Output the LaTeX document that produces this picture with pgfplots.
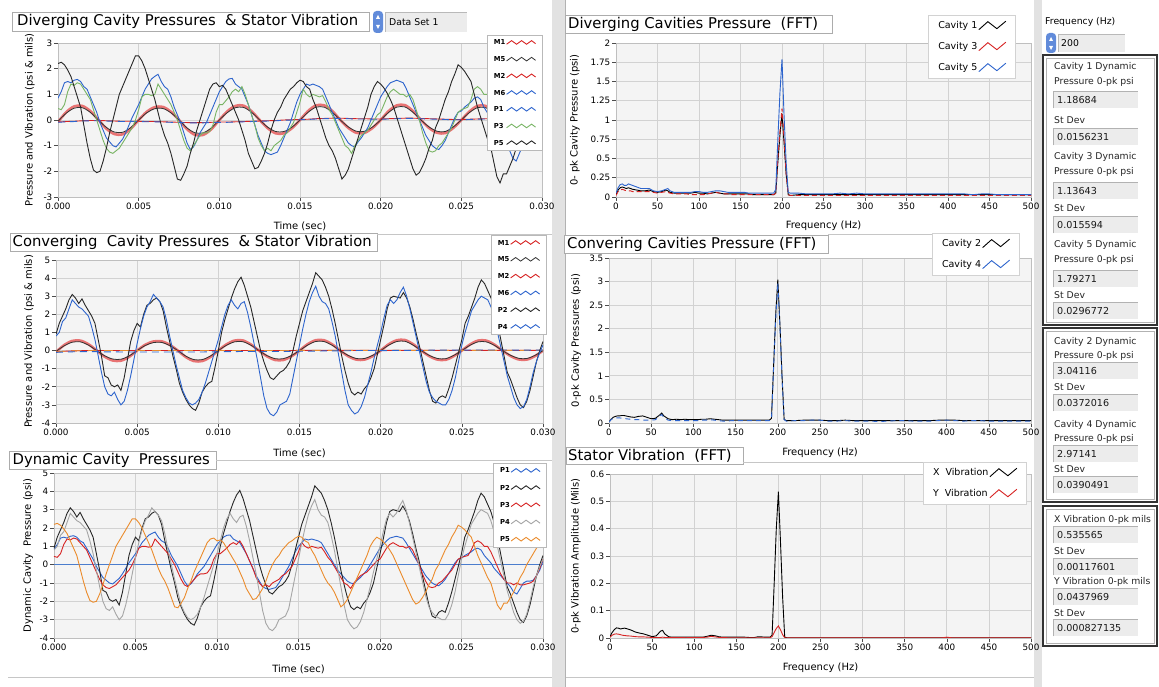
\documentclass[border=0pt]{standalone}
\usepackage{pgfplots}
\usepackage{pgfplotstable}
\pgfplotsset{compat=1.18}
\usepackage{fontspec}
\setmainfont{DejaVu Sans}

\definecolor{plotbg}{RGB}{244,244,244}
\definecolor{gridc}{RGB}{210,210,210}
\definecolor{lvblue}{RGB}{45,100,205}
\definecolor{lvblue2}{RGB}{75,125,205}
\definecolor{lvred}{RGB}{215,35,35}
\definecolor{lvred2}{RGB}{232,115,115}
\definecolor{lvgreen}{RGB}{120,180,100}
\definecolor{lvorange}{RGB}{235,140,45}
\definecolor{lvgrey}{RGB}{165,165,165}
\definecolor{lvpurple}{RGB}{110,40,140}
\definecolor{boxfill}{RGB}{236,236,236}
\definecolor{sepc}{RGB}{226,226,226}

% time signals (t in ms)
\pgfplotstableread{
t P1 P2 P3 P4 P5
0.0 0.85 0.9 0.45 0.8 2.2
0.2 1.1 1.5 0.4 1.0 2.25
0.4 1.45 1.9 0.6 1.6 2.15
0.6 1.5 2.3 1.1 1.8 1.95
0.8 1.45 2.8 1.4 2.3 1.7
1.0 1.55 3.1 1.35 2.8 1.3
1.2 1.58 2.9 1.45 2.6 0.9
1.4 1.5 2.6 1.4 2.4 0.5
1.6 1.3 2.85 1.2 2.3 -0.2
1.8 1.2 2.5 1.0 2.1 -0.9
2.0 0.9 2.2 0.8 1.9 -1.5
2.2 0.6 1.9 0.4 1.3 -1.95
2.4 0.3 1.5 0.0 0.6 -2.05
2.6 -0.1 0.6 -0.4 -0.3 -2.0
2.8 -0.4 -0.3 -0.8 -1.2 -1.6
3.0 -0.7 -1.4 -1.1 -2.0 -1.1
3.2 -0.85 -1.5 -1.25 -2.4 -0.5
3.4 -1.0 -1.9 -1.3 -2.5 0.0
3.6 -1.05 -2.0 -1.2 -2.3 0.5
3.8 -0.9 -1.9 -1.1 -2.7 1.0
4.0 -0.75 -2.2 -0.9 -3.0 1.3
4.2 -0.5 -1.5 -0.7 -2.8 1.6
4.4 -0.2 -0.5 -0.5 -2.2 1.9
4.6 0.1 0.5 -0.3 -1.4 2.2
4.8 0.35 1.1 0.0 -0.5 2.5
5.0 0.6 1.5 0.4 0.4 2.5
5.2 0.9 1.3 0.9 1.2 2.3
5.4 1.2 2.0 1.0 1.9 2.0
5.6 1.4 2.5 1.0 2.4 1.6
5.8 1.6 2.6 0.95 2.7 1.2
6.0 1.7 2.8 1.0 3.1 0.8
6.2 1.78 2.9 1.4 2.9 0.3
6.4 1.5 2.7 1.2 2.7 -0.2
6.6 1.3 2.2 1.0 2.4 -0.6
6.8 1.2 1.3 0.8 1.7 -0.9
7.0 0.9 0.5 0.6 0.8 -1.3
7.2 0.5 -0.3 0.3 0.0 -1.8
7.4 0.2 -1.0 0.0 -0.8 -2.3
7.6 -0.1 -1.8 -0.4 -1.5 -2.35
7.8 -0.5 -2.3 -0.8 -2.2 -2.1
8.0 -0.9 -2.7 -1.1 -2.6 -1.8
8.2 -1.15 -3.0 -1.2 -2.9 -1.3
8.4 -1.05 -3.2 -1.0 -3.0 -0.9
8.6 -0.8 -3.3 -0.8 -2.9 -0.4
8.8 -0.5 -2.9 -0.6 -2.7 0.0
9.0 -0.3 -2.3 -0.5 -2.3 0.4
9.2 -0.1 -2.0 -0.5 -1.8 0.8
9.4 0.2 -1.8 -0.45 -1.2 1.2
9.6 0.5 -1.7 -0.2 -0.6 1.4
9.8 0.8 -0.9 0.3 0.0 1.45
10.0 1.1 0.0 0.6 0.6 1.3
10.2 1.3 1.0 0.6 1.3 1.35
10.4 1.5 1.7 0.75 2.0 1.2
10.6 1.6 2.3 0.9 2.5 0.9
10.8 1.62 2.9 1.1 2.8 0.6
11.0 1.4 3.4 1.2 2.5 0.3
11.2 1.3 3.8 1.1 2.3 0.0
11.4 1.2 4.05 1.3 2.6 -0.4
11.6 0.9 3.6 1.0 2.7 -0.8
11.8 0.6 3.0 0.6 2.1 -1.3
12.0 0.2 2.4 0.2 1.3 -1.6
12.2 -0.2 1.6 -0.2 0.4 -1.9
12.4 -0.6 0.8 -0.7 -0.5 -1.85
12.6 -0.9 0.0 -1.0 -1.5 -1.6
12.8 -1.2 -0.6 -1.2 -2.5 -1.3
13.0 -1.3 -1.1 -1.1 -3.2 -0.9
13.2 -1.35 -1.5 -1.2 -3.5 -0.4
13.4 -1.3 -1.6 -1.0 -3.6 0.0
13.6 -1.25 -1.4 -0.9 -3.4 0.3
13.8 -1.0 -1.2 -0.8 -3.0 0.5
14.0 -0.7 -1.1 -0.6 -2.9 0.8
14.2 -0.4 -0.9 -0.5 -2.8 1.0
14.4 -0.1 -0.6 -0.3 -2.4 1.2
14.6 0.3 0.0 -0.1 -1.5 1.3
14.8 0.7 0.8 0.3 -0.6 1.45
15.0 1.0 1.5 0.7 0.3 1.55
15.2 1.2 2.2 1.2 1.2 1.5
15.4 1.4 2.7 1.0 2.0 1.3
15.6 1.35 3.2 0.9 2.7 1.2
15.8 1.4 3.7 1.0 3.2 0.8
16.0 1.35 4.3 0.95 3.55 0.5
16.2 1.3 4.1 0.9 3.0 0.1
16.4 1.2 3.9 0.95 2.7 -0.3
16.6 0.9 3.5 0.7 2.6 -0.7
16.8 0.6 3.0 0.4 2.3 -1.0
17.0 0.3 2.3 0.2 1.6 -1.2
17.2 0.0 1.5 -0.1 0.8 -1.5
17.4 -0.3 0.6 -0.4 -0.2 -1.9
17.6 -0.5 -0.3 -0.7 -1.2 -2.3
17.8 -0.7 -1.1 -1.0 -2.2 -2.15
18.0 -0.9 -1.8 -1.1 -3.0 -1.9
18.2 -1.0 -2.3 -1.3 -3.3 -1.5
18.4 -1.05 -2.45 -1.0 -3.5 -1.1
18.6 -0.85 -2.3 -0.8 -3.4 -0.7
18.8 -0.7 -2.4 -0.6 -3.1 -0.3
19.0 -0.5 -2.1 -0.5 -2.6 0.1
19.2 -0.3 -1.9 -0.4 -1.9 0.5
19.4 0.0 -1.5 -0.2 -1.2 1.0
19.6 0.3 -1.0 0.0 -0.4 1.3
19.8 0.6 -0.2 0.2 0.3 1.5
20.0 0.9 0.6 0.3 1.0 1.4
20.2 1.1 1.4 0.6 1.8 1.25
20.4 1.3 2.3 0.9 2.5 1.05
20.6 1.45 2.9 1.1 2.8 0.8
20.8 1.5 3.0 1.2 2.6 0.5
21.0 1.55 2.95 1.1 2.8 0.1
21.2 1.5 2.9 1.0 3.2 -0.3
21.4 1.45 3.2 1.0 3.5 -0.7
21.6 1.2 2.9 0.9 3.0 -1.1
21.8 0.9 2.4 1.0 2.3 -1.5
22.0 0.6 1.7 0.8 1.5 -1.9
22.2 0.3 0.9 0.4 0.7 -2.15
22.4 0.0 0.2 0.0 -0.1 -2.05
22.6 -0.3 -0.6 -0.5 -0.9 -1.8
22.8 -0.6 -1.4 -0.9 -1.7 -1.5
23.0 -0.8 -2.2 -1.2 -2.3 -1.1
23.2 -1.0 -2.8 -1.25 -2.6 -0.8
23.4 -1.1 -2.9 -1.2 -2.8 -0.3
23.6 -1.15 -2.6 -1.0 -2.9 0.0
23.8 -1.0 -2.5 -0.9 -3.0 0.4
24.0 -0.8 -2.6 -0.7 -3.0 0.8
24.2 -0.5 -2.1 -0.5 -2.7 1.1
24.4 -0.2 -1.5 -0.3 -2.2 1.5
24.6 0.1 -0.8 0.0 -1.5 1.8
24.8 0.3 -0.1 0.3 -0.6 2.15
25.0 0.35 0.6 0.4 0.3 2.05
25.2 0.5 1.5 0.45 1.0 1.9
25.4 0.6 1.9 0.5 1.6 1.7
25.6 0.7 2.4 0.8 2.2 1.5
25.8 0.85 2.9 1.2 2.5 1.0
26.0 0.9 3.5 1.3 2.8 0.5
26.2 0.8 3.9 1.2 3.0 0.1
26.4 0.5 3.7 1.0 2.9 -0.3
26.6 0.3 3.3 1.0 2.8 -0.7
26.8 0.1 2.9 0.7 2.4 -1.0
27.0 -0.2 2.3 0.3 1.8 -1.6
27.2 -0.4 1.5 -0.1 1.0 -2.2
27.4 -0.6 0.6 -0.5 0.2 -2.45
27.6 -0.8 -0.3 -0.8 -0.6 -2.1
27.8 -1.0 -1.2 -1.0 -1.4 -2.1
28.0 -1.2 -1.6 -1.0 -2.0 -1.8
28.2 -1.5 -2.1 -1.1 -2.6 -1.5
28.4 -1.6 -2.6 -1.0 -3.0 -1.1
28.6 -1.3 -3.0 -1.1 -3.2 -0.7
28.8 -1.0 -3.15 -1.1 -3.1 -0.4
29.0 -0.9 -2.8 -1.05 -2.7 0.0
29.2 -0.9 -2.2 -1.0 -2.0 0.3
29.4 -0.85 -1.4 -0.9 -1.2 0.6
29.6 -0.6 -0.6 -0.6 -0.6 0.9
29.8 -0.3 0.0 -0.2 -0.1 1.1
30.0 0.2 0.5 0.3 0.3 1.3
}\ptab

% stator vibration traces (t in ms)
\pgfplotstableread{
t M1 M5 Z1 Z2 Z3 Z4
0.0 -0.08 -0.05 -0.08 -0.09 -0.08 -0.10
0.5 0.30 0.26 -0.06 -0.07 -0.04 -0.08
1.0 0.53 0.46 -0.05 -0.06 -0.02 -0.07
1.5 0.55 0.48 -0.03 -0.04 -0.01 -0.06
2.0 0.35 0.30 -0.02 -0.03 0.00 -0.06
2.5 0.01 0.00 -0.02 -0.03 0.00 -0.06
3.0 -0.34 -0.29 -0.03 -0.04 0.00 -0.07
3.5 -0.55 -0.47 -0.04 -0.05 0.00 -0.07
4.0 -0.56 -0.48 -0.05 -0.06 0.00 -0.08
4.5 -0.35 -0.30 -0.05 -0.06 0.00 -0.08
5.0 0.00 0.00 -0.05 -0.06 0.00 -0.08
5.5 0.32 0.28 -0.06 -0.07 0.00 -0.08
6.0 0.50 0.44 -0.06 -0.07 0.00 -0.08
6.5 0.51 0.45 -0.07 -0.08 0.00 -0.08
7.0 0.32 0.28 -0.08 -0.09 0.00 -0.08
7.5 0.00 0.00 -0.09 -0.10 0.00 -0.08
8.0 -0.36 -0.31 -0.10 -0.11 0.00 -0.08
8.5 -0.58 -0.50 -0.10 -0.11 0.00 -0.08
9.0 -0.58 -0.50 -0.10 -0.11 0.00 -0.08
9.5 -0.36 -0.31 -0.09 -0.10 0.00 -0.07
10.0 0.00 0.00 -0.08 -0.09 0.00 -0.07
10.5 0.34 0.29 -0.08 -0.09 0.00 -0.06
11.0 0.55 0.48 -0.07 -0.08 0.00 -0.06
11.5 0.56 0.49 -0.06 -0.07 0.00 -0.05
12.0 0.34 0.30 -0.05 -0.06 0.00 -0.05
12.5 0.00 0.00 -0.04 -0.05 0.00 -0.05
13.0 -0.32 -0.28 -0.03 -0.04 0.00 -0.05
13.5 -0.52 -0.45 -0.02 -0.03 0.00 -0.05
14.0 -0.52 -0.45 0.00 -0.01 0.00 -0.05
14.5 -0.32 -0.28 0.01 0.00 0.00 -0.04
15.0 0.00 0.00 0.02 0.01 0.01 -0.04
15.5 0.35 0.30 0.03 0.02 0.01 -0.03
16.0 0.57 0.50 0.05 0.04 0.01 -0.03
16.5 0.57 0.50 0.06 0.05 0.01 -0.02
17.0 0.35 0.30 0.07 0.06 0.01 -0.02
17.5 0.00 0.00 0.07 0.06 0.01 -0.01
18.0 -0.31 -0.27 0.06 0.05 0.01 -0.01
18.5 -0.50 -0.44 0.05 0.04 0.01 0.00
19.0 -0.50 -0.44 0.05 0.04 0.01 0.00
19.5 -0.31 -0.27 0.04 0.03 0.01 0.00
20.0 0.00 0.00 0.04 0.03 0.01 0.00
20.5 0.35 0.30 0.05 0.04 0.01 0.00
21.0 0.57 0.50 0.06 0.05 0.01 0.01
21.5 0.58 0.51 0.07 0.06 0.01 0.01
22.0 0.35 0.30 0.07 0.06 0.01 0.01
22.5 0.00 0.00 0.06 0.05 0.01 0.01
23.0 -0.31 -0.27 0.05 0.04 0.01 0.02
23.5 -0.50 -0.44 0.04 0.03 0.01 0.02
24.0 -0.51 -0.45 0.03 0.02 0.01 0.02
24.5 -0.31 -0.27 0.02 0.01 0.01 0.02
25.0 0.00 0.00 0.02 0.01 0.01 0.02
25.5 0.33 0.29 0.03 0.02 0.01 0.03
26.0 0.55 0.48 0.04 0.03 0.01 0.03
26.5 0.55 0.48 0.05 0.04 0.01 0.03
27.0 0.33 0.29 0.05 0.04 0.01 0.03
27.5 0.00 0.00 0.05 0.04 0.01 0.03
28.0 -0.30 -0.26 0.05 0.04 0.01 0.03
28.5 -0.49 -0.43 0.05 0.04 0.01 0.02
29.0 -0.50 -0.44 0.04 0.03 0.01 0.02
29.5 -0.31 -0.27 0.04 0.03 0.01 0.02
30.0 0.00 0.00 0.04 0.03 0.01 0.02
}\mtab

% FFT diverging
\pgfplotstableread{
f c1 c3 c5
0 0.03 0.02 0.05
2.5 0.09 0.07 0.12
5 0.12 0.09 0.16
7.5 0.13 0.10 0.17
10 0.12 0.09 0.15
12.5 0.11 0.08 0.15
15 0.12 0.08 0.17
17.5 0.11 0.08 0.16
20 0.10 0.07 0.15
25 0.09 0.07 0.13
30 0.08 0.07 0.11
35 0.08 0.07 0.11
40 0.09 0.07 0.11
45 0.07 0.06 0.08
50 0.06 0.05 0.07
55 0.07 0.06 0.08
60 0.09 0.07 0.10
62.5 0.08 0.06 0.11
65 0.06 0.05 0.08
70 0.05 0.04 0.06
75 0.05 0.04 0.06
80 0.05 0.04 0.06
85 0.05 0.04 0.06
90 0.05 0.03 0.06
95 0.06 0.03 0.07
100 0.05 0.03 0.07
105 0.05 0.03 0.06
110 0.04 0.04 0.06
115 0.05 0.05 0.07
120 0.06 0.06 0.08
125 0.05 0.05 0.08
130 0.04 0.04 0.07
135 0.04 0.04 0.06
140 0.04 0.03 0.06
145 0.04 0.03 0.06
150 0.04 0.03 0.06
155 0.04 0.03 0.06
160 0.04 0.03 0.05
165 0.03 0.03 0.05
170 0.03 0.03 0.05
175 0.03 0.03 0.05
180 0.03 0.03 0.05
185 0.03 0.03 0.05
190 0.03 0.03 0.05
192.5 0.05 0.05 0.10
195 0.45 0.50 0.75
197.5 0.80 0.85 1.35
200 1.08 1.15 1.79
202.5 0.70 0.75 1.05
205 0.30 0.30 0.45
207.5 0.03 0.03 0.06
210 0.02 0.02 0.05
220 0.03 0.02 0.05
230 0.03 0.02 0.04
240 0.03 0.02 0.04
250 0.03 0.02 0.04
260 0.03 0.02 0.04
270 0.03 0.02 0.05
280 0.03 0.02 0.04
290 0.03 0.02 0.05
300 0.03 0.02 0.04
310 0.03 0.02 0.04
320 0.03 0.02 0.04
330 0.03 0.02 0.04
340 0.03 0.02 0.04
350 0.03 0.02 0.04
360 0.03 0.02 0.04
370 0.03 0.02 0.04
380 0.03 0.02 0.04
390 0.03 0.02 0.04
400 0.03 0.02 0.04
410 0.03 0.02 0.04
420 0.03 0.02 0.04
430 0.03 0.02 0.03
440 0.03 0.02 0.04
450 0.03 0.02 0.04
460 0.03 0.02 0.03
470 0.03 0.02 0.03
480 0.03 0.02 0.03
490 0.03 0.02 0.03
500 0.03 0.02 0.03
}\fonetab

% FFT converging
\pgfplotstableread{
f c2 c4
0 0.02 0.02
2.5 0.08 0.07
5 0.12 0.10
7.5 0.14 0.11
10 0.15 0.11
12.5 0.15 0.11
15 0.16 0.10
17.5 0.16 0.10
20 0.15 0.09
25 0.13 0.08
30 0.12 0.07
35 0.14 0.07
40 0.15 0.06
45 0.12 0.06
50 0.09 0.06
55 0.10 0.07
60 0.17 0.15
62.5 0.21 0.18
65 0.15 0.12
70 0.09 0.06
75 0.07 0.05
80 0.08 0.05
85 0.07 0.05
90 0.08 0.05
95 0.07 0.05
100 0.07 0.05
105 0.07 0.05
110 0.08 0.06
115 0.08 0.06
120 0.09 0.07
125 0.08 0.06
130 0.07 0.05
135 0.06 0.04
140 0.06 0.04
145 0.06 0.05
150 0.06 0.05
160 0.06 0.05
170 0.06 0.05
180 0.06 0.05
190 0.06 0.05
192.5 0.10 0.08
195 1.20 1.15
197.5 2.30 2.20
200 3.04 2.97
202.5 2.10 2.05
205 1.00 0.95
207.5 0.08 0.07
210 0.05 0.04
220 0.05 0.05
230 0.06 0.05
240 0.06 0.06
250 0.06 0.06
260 0.05 0.04
270 0.05 0.04
280 0.06 0.05
290 0.05 0.04
300 0.05 0.04
310 0.05 0.04
320 0.05 0.03
330 0.05 0.04
340 0.05 0.05
350 0.05 0.05
360 0.05 0.04
370 0.05 0.04
380 0.05 0.04
390 0.06 0.05
400 0.06 0.06
410 0.06 0.05
420 0.05 0.04
430 0.05 0.05
440 0.05 0.05
450 0.05 0.04
460 0.05 0.04
470 0.05 0.04
480 0.05 0.04
490 0.05 0.04
500 0.05 0.04
}\ftwotab

% FFT stator vibration
\pgfplotstableread{
f x y
0 0.005 0.003
2.5 0.020 0.010
5 0.030 0.014
7.5 0.037 0.015
10 0.036 0.014
12.5 0.033 0.012
15 0.035 0.010
17.5 0.036 0.009
20 0.034 0.008
25 0.029 0.007
30 0.022 0.005
35 0.018 0.004
40 0.015 0.004
45 0.010 0.003
50 0.005 0.002
55 0.008 0.002
60 0.025 0.002
62.5 0.028 0.003
65 0.015 0.002
70 0.004 0.002
80 0.003 0.002
90 0.003 0.001
100 0.003 0.002
110 0.003 0.002
115 0.006 0.003
120 0.010 0.006
125 0.008 0.004
130 0.004 0.002
140 0.003 0.001
150 0.003 0.001
160 0.003 0.001
170 0.001 0.001
175 0.004 0.001
180 0.004 0.001
185 0.003 0.001
190 0.003 0.001
192.5 0.010 0.005
195 0.200 0.020
197.5 0.400 0.035
200 0.535 0.044
202.5 0.350 0.030
205 0.150 0.012
207.5 0.003 0.001
210 0.001 0.001
250 0.001 0.001
300 0.001 0.001
350 0.001 0.001
395 0.001 0.001
400 0.001 0.003
405 0.001 0.001
450 0.001 0.001
500 0.001 0.001
}\fthreetab

\pgfplotsset{
  lv/.style={
    scale only axis,
    axis background/.style={fill=plotbg},
    grid=major,
    major grid style={gridc, line width=0.8pt},
    axis line style={gray!50, line width=0.6pt},
    tick pos=left,
    tick align=outside,
    major tick length=4pt,
    tick style={black!70, line width=0.6pt},
    ticklabel style={font=\fontsize{8.8}{10}\selectfont, inner sep=1.5pt},
    label style={font=\fontsize{8.8}{10}\selectfont},
    legend plot pos=right,
    legend cell align=left,
    every axis plot/.append style={line width=0.9pt},
  },
  lvtime/.style={lv, xmin=0, xmax=30, xtick={0,5,...,30},
    xticklabels={0.000,0.005,0.010,0.015,0.020,0.025,0.030},
    xlabel={Time (sec)}},
  lvfft/.style={lv, xmin=0, xmax=500, xtick={0,50,...,500},
    xticklabels={0,50,100,150,200,250,300,350,400,450,500},
    xlabel={Frequency (Hz)}},
  labpos/.style 2 args={
    every axis y label/.style={at={(axis description cs:#1,0.5)}, rotate=90, anchor=center},
    every axis x label/.style={at={(axis description cs:0.5,#2)}, anchor=center}},
  zig/.style={legend image code/.code={\draw[##1] (0pt,-1.6pt)--(5pt,2pt)--(10pt,-1.6pt)--(15pt,2pt)--(20pt,-1.6pt)--(25pt,2pt)--(29pt,-1pt);}},
  zigb/.style={legend image code/.code={\draw[##1] (0pt,-4pt)--(9pt,4pt)--(18pt,-3pt)--(27pt,4.5pt);}},
  leftleg/.style n args={3}{zig, legend style={at={(axis description cs:#1,#2)}, anchor=north west,
    draw=gray!55, fill=white, font=\fontsize{6.8}{7}\selectfont\bfseries,
    inner xsep=6pt, inner ysep=4pt, row sep=#3,
    nodes={inner sep=0.8pt, text height=5pt, text depth=0.3pt},
    /tikz/every even column/.append style={column sep=9pt}}},
  fftleg/.style 2 args={zigb, legend style={at={(axis description cs:#1,#2)}, anchor=north west,
    draw=gray!35, fill=white, font=\fontsize{9.5}{11}\selectfont,
    inner xsep=9pt, inner ysep=5pt, row sep=10pt,
    nodes={inner sep=1pt, text height=7pt, text depth=2pt},
    /tikz/every even column/.append style={column sep=18pt}}},
}

\newcommand{\plbl}[2]{\node[anchor=west, inner sep=0, font=\fontsize{9.3}{11}\selectfont, text=black!85] at (1054,687-#1) {#2};}
\newcommand{\valbox}[2]{%
  \fill[boxfill] (1053,687-#1-8.5) rectangle (1138,687-#1+8.5);
  \draw[gray!60, line width=0.9pt] (1053,687-#1-8.5) -- (1053,687-#1+8.5) -- (1138,687-#1+8.5);
  \node[anchor=west, inner sep=0, font=\fontsize{9.6}{11}\selectfont, text=black!90] at (1057,687-#1) {#2};}
\newcommand{\ttl}[6]{% x1, y1, x2, y2 (pixel, top-down), text x, text
  \draw[gray!65, fill=white, line width=0.8pt] (#1,687-#2) rectangle (#3,687-#4);
  \node[anchor=west, inner sep=0, font=\fontsize{14.8}{16}\selectfont] at (#5,687-#2/2-#4/2) {#6};}

\begin{document}
\begin{tikzpicture}[x=1pt,y=1pt]
\fill[white] (0,0) rectangle (1159,687);
\path[use as bounding box] (0,0) rectangle (1159,687);
% splitters
\fill[sepc] (552,0) rectangle (565,687);
\draw[gray!60] (565,0) -- (565,687);
\fill[sepc] (1034,0) rectangle (1042,687);
\draw[gray!45] (8,687-677) -- (552,687-677);
\draw[gray!45] (566,687-677) -- (1034,687-677);

% ---------------- Diverging (time) ----------------
\begin{axis}[lvtime, at={(58pt,490pt)}, anchor=south west, width=484pt, height=154pt,
  ymin=-3, ymax=3, ytick={-3,...,3}, yticklabels={-3,-2,-1,0,1,2,3},
  ylabel={Pressure and Vibration (psi \& mils)}, labpos={-0.058}{-0.19},
  leftleg={0.886}{1.052}{9.8pt}]
\addplot[lvred2, line width=2.6pt, smooth, forget plot] table[x=t,y=M1]{\mtab};
\addlegendimage{lvred, line width=0.9pt}
\addlegendentry{M1}
\addplot[black!80, line width=0.8pt, smooth] table[x=t,y=M5]{\mtab};
\addlegendentry{M5}
\addplot[lvred, smooth] table[x=t,y=Z1]{\mtab};
\addlegendentry{M2}
\addplot[lvblue, dash pattern=on 7pt off 5pt, smooth, forget plot] table[x=t,y=Z2]{\mtab};
\addlegendimage{lvblue, line width=0.9pt}
\addlegendentry{M6}
\addplot[lvblue] table[x=t,y=P1]{\ptab};
\addlegendentry{P1}
\addplot[lvgreen] table[x=t,y=P3]{\ptab};
\addlegendentry{P3}
\addplot[black!85] table[x=t,y=P5]{\ptab};
\addlegendentry{P5}
\end{axis}

% ---------------- Converging (time) ----------------
\begin{axis}[lvtime, at={(56pt,264pt)}, anchor=south west, width=487pt, height=163pt,
  ymin=-4, ymax=5, ytick={-4,...,5}, yticklabels={-4,-3,-2,-1,0,1,2,3,4,5},
  ylabel={Pressure and Vibration (psi \& mils)}, labpos={-0.055}{-0.184},
  leftleg={0.893}{1.153}{9.9pt}]
\addplot[lvred2, line width=2.6pt, smooth, forget plot] table[x=t,y=M1]{\mtab};
\addlegendimage{lvred, line width=0.9pt}
\addlegendentry{M1}
\addplot[black!80, line width=0.8pt, smooth] table[x=t,y=M5]{\mtab};
\addlegendentry{M5}
\addplot[lvred, smooth] table[x=t,y=Z3]{\mtab};
\addlegendentry{M2}
\addplot[lvorange, dash pattern=on 9pt off 7pt, smooth, forget plot] table[x=t,y=Z3]{\mtab};
\addplot[lvblue, dash pattern=on 7pt off 5pt, smooth, forget plot] table[x=t,y=Z4]{\mtab};
\addlegendimage{lvblue, line width=0.9pt}
\addlegendentry{M6}
\addplot[black!85] table[x=t,y=P2]{\ptab};
\addlegendentry{P2}
\addplot[lvblue] table[x=t,y=P4]{\ptab};
\addlegendentry{P4}
\end{axis}

% ---------------- Dynamic cavity pressures ----------------
\begin{axis}[lvtime, at={(54pt,49pt)}, anchor=south west, width=489pt, height=165pt,
  ymin=-4, ymax=5, ytick={-4,...,5}, yticklabels={-4,-3,-2,-1,0,1,2,3,4,5},
  ylabel={Dynamic Cavity\ \ Pressure (psi)}, labpos={-0.053}{-0.188},
  leftleg={0.898}{1.061}{10.3pt}]
\addplot[lvblue2, line width=1pt, forget plot] coordinates {(0,0) (30,0)};
\addplot[lvblue] table[x=t,y=P1]{\ptab};
\addlegendentry{P1}
\addplot[black!85] table[x=t,y=P2]{\ptab};
\addlegendentry{P2}
\addplot[lvred] table[x=t,y=P3]{\ptab};
\addlegendentry{P3}
\addplot[lvgrey] table[x=t,y=P4]{\ptab};
\addlegendentry{P4}
\addplot[lvorange] table[x=t,y=P5]{\ptab};
\addlegendentry{P5}
\end{axis}

% ---------------- FFT diverging ----------------
\begin{axis}[lvfft, at={(616pt,490pt)}, anchor=south west, width=415pt, height=154pt,
  ymin=0, ymax=2, ytick={0,0.25,...,2}, yticklabels={0,0.25,0.5,0.75,1,1.25,1.5,1.75,2},
  ylabel={0- pk Cavity Pressure (psi)}, labpos={-0.099}{-0.188},
  fftleg={0.752}{1.182}]
\addplot[black] table[x=f,y=c1]{\fonetab};
\addlegendentry{Cavity 1}
\addplot[lvred, dash pattern=on 5pt off 3pt, forget plot] table[x=f,y=c3]{\fonetab};
\addlegendimage{lvred, line width=0.9pt}
\addlegendentry{Cavity 3}
\addplot[lvblue] table[x=f,y=c5]{\fonetab};
\addlegendentry{Cavity 5}
\end{axis}

% ---------------- FFT converging ----------------
\begin{axis}[lvfft, at={(609pt,264pt)}, anchor=south west, width=422pt, height=165pt,
  ymin=0, ymax=3.5, ytick={0,0.5,...,3.5}, yticklabels={0,0.5,1,1.5,2,2.5,3,3.5},
  ylabel={0-pk Cavity Pressures (psi)}, labpos={-0.078}{-0.182},
  fftleg={0.765}{1.152}]
\addplot[black] table[x=f,y=c2]{\ftwotab};
\addlegendentry{Cavity 2}
\addplot[lvblue, dash pattern=on 5pt off 4pt, forget plot] table[x=f,y=c4]{\ftwotab};
\addlegendimage{lvblue, line width=0.9pt}
\addlegendentry{Cavity 4}
\end{axis}

% ---------------- FFT stator ----------------
\begin{axis}[lvfft, at={(610pt,49pt)}, anchor=south west, width=421pt, height=164pt,
  ymin=0, ymax=0.6, ytick={0,0.1,...,0.6}, yticklabels={0,0.1,0.2,0.3,0.4,0.5,0.6},
  ylabel={0-pk Vibration Amplitude (Mils)}, labpos={-0.081}{-0.183},
  fftleg={0.743}{1.073}]
\addplot[black] table[x=f,y=x]{\fthreetab};
\addlegendentry{X\ \ Vibration}
\addplot[lvred] table[x=f,y=y]{\fthreetab};
\addlegendentry{Y\ \ Vibration}
\end{axis}

% ---------------- titles ----------------
\ttl{12}{12}{369}{31}{17}{Diverging Cavity Pressures\ \ \& Stator Vibration}
\ttl{10}{233}{377}{251}{12.5}{Converging\ \ Cavity Pressures\ \ \& Stator Vibration}
\draw[gray!45] (377,687-234) -- (552,687-234);
\ttl{9}{451}{216}{469}{12.5}{Dynamic Cavity\ \ Pressures}
\draw[gray!45] (216,687-460) -- (552,687-460);
\ttl{565}{15}{832}{33}{568}{Diverging Cavities Pressure\ \ (FFT)}
\ttl{564}{235}{828}{253}{567}{Convering Cavities Pressure (FFT)}
\draw[gray!45] (828,687-234) -- (932,687-234);
\ttl{566}{447}{743}{464}{568}{Stator Vibration\ \ (FFT)}
\draw[gray!45] (743,687-462) -- (923,687-462);

% Data set control
\fill[lvblue!75!white, rounded corners=3.5pt] (373,687-11) rectangle (383,687-33);
\fill[white] (376,687-19) -- (380,687-19) -- (378,687-15) -- cycle;
\fill[white] (376,687-25) -- (380,687-25) -- (378,687-29) -- cycle;
\fill[boxfill] (385,687-12) rectangle (467,687-32);
\draw[gray!55, line width=0.9pt] (385,687-32) -- (385,687-12) -- (467,687-12);
\node[anchor=west, inner sep=0, font=\fontsize{9.3}{11}\selectfont] at (389,687-22) {Data Set 1};

% ---------------- right panel ----------------
\node[anchor=west, inner sep=0, font=\fontsize{9.3}{11}\selectfont] at (1045,687-22) {Frequency (Hz)};
\fill[lvblue!75!white, rounded corners=3.5pt] (1046,687-33) rectangle (1056,687-53);
\fill[white] (1049,687-41) -- (1053,687-41) -- (1051,687-37) -- cycle;
\fill[white] (1049,687-46) -- (1053,687-46) -- (1051,687-50) -- cycle;
\fill[boxfill] (1058,687-34) rectangle (1125,687-52);
\draw[gray!55, line width=0.9pt] (1058,687-52) -- (1058,687-34) -- (1125,687-34);
\node[anchor=west, inner sep=0, font=\fontsize{9.3}{11}\selectfont] at (1061,687-43) {200};

\draw[black!80, line width=1.6pt] (1043,687-55) rectangle (1157,687-325);
\draw[gray!60, line width=0.6pt] (1046,687-58) rectangle (1154,687-322);
\plbl{67}{Cavity 1 Dynamic}
\plbl{82}{Pressure 0-pk psi}
\valbox{100}{1.18684}
\plbl{120}{St Dev}
\valbox{137}{0.0156231}
\plbl{157}{Cavity 3 Dynamic}
\plbl{172}{Pressure 0-pk psi}
\valbox{191}{1.13643}
\plbl{208}{St Dev}
\valbox{225}{0.015594}
\plbl{245}{Cavity 5 Dynamic}
\plbl{260}{Pressure 0-pk psi}
\valbox{279}{1.79271}
\plbl{295}{St Dev}
\valbox{311}{0.0296772}

\draw[black!80, line width=1.6pt] (1043,687-328) rectangle (1157,687-502);
\draw[gray!60, line width=0.6pt] (1046,687-331) rectangle (1154,687-499);
\plbl{342}{Cavity 2 Dynamic}
\plbl{356}{Pressure 0-pk psi}
\valbox{371}{3.04116}
\plbl{387}{St Dev}
\valbox{403}{0.0372016}
\plbl{425}{Cavity 4 Dynamic}
\plbl{439}{Pressure 0-pk psi}
\valbox{454}{2.97141}
\plbl{469}{St Dev}
\valbox{485}{0.0390491}

\draw[black!80, line width=1.6pt] (1043,687-506) rectangle (1157,687-646);
\draw[gray!60, line width=0.6pt] (1046,687-509) rectangle (1154,687-643);
\plbl{520}{X Vibration 0-pk mils}
\valbox{535}{0.535565}
\plbl{551}{St Dev}
\valbox{567}{0.00117601}
\plbl{582}{Y Vibration 0-pk mils}
\valbox{597}{0.0437969}
\plbl{613}{St Dev}
\valbox{628}{0.000827135}
\end{tikzpicture}
\end{document}
